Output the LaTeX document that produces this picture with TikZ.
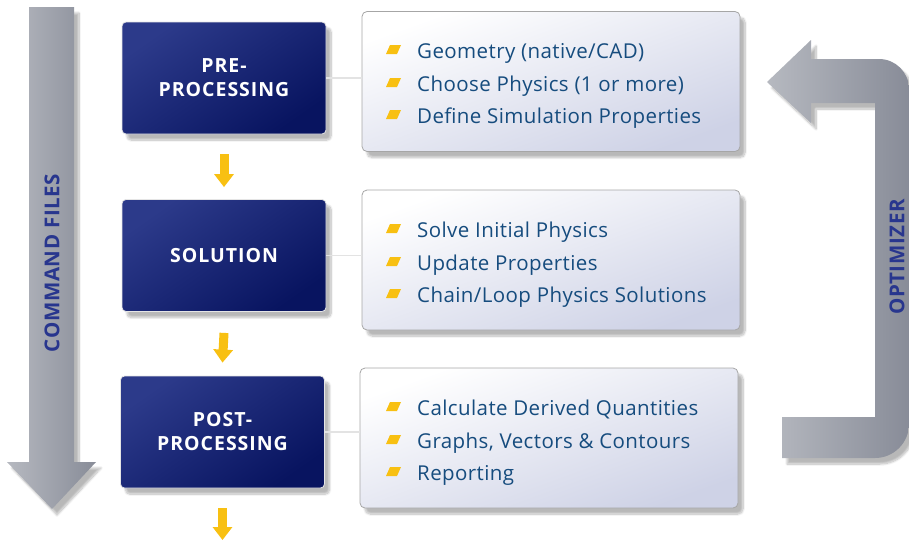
\documentclass[tikz,border=0pt]{standalone}
\usepackage{fontspec}
\setmainfont{Open Sans}
\usetikzlibrary{shadows,shadows.blur,arrows.meta}
\definecolor{navyL}{RGB}{44,58,138}
\definecolor{navyD}{RGB}{8,20,96}
\definecolor{txtblue}{RGB}{22,76,126}
\definecolor{lav}{RGB}{206,210,230}
\definecolor{greyL}{RGB}{182,185,192}
\definecolor{greyD}{RGB}{136,140,152}
\definecolor{lbl}{RGB}{40,54,142}
\definecolor{yel}{RGB}{248,192,18}
\tikzset{
  softshadow/.style={blur shadow={shadow xshift=5pt, shadow yshift=-6pt, shadow blur steps=10, shadow opacity=28}},
  stage/.style={draw=white!80!gray, line width=0.8pt, rounded corners=4pt,
    top color=navyL, bottom color=navyD, shading angle=35,
    minimum width=204pt, minimum height=112pt, inner sep=0pt,
    text=white, align=center, font=\bfseries\fontsize{19.5}{24}\selectfont\addfontfeature{LetterSpace=5}, softshadow},
  infobox/.style={draw=gray!70, line width=0.8pt, rounded corners=5pt,
    top color=white, bottom color=lav, shading angle=20,
    minimum width=378pt, minimum height=140pt, inner sep=0pt, softshadow},
  item/.style={anchor=base west, inner sep=0pt, text=txtblue, font=\fontsize{20.5}{24}\selectfont\addfontfeature{LetterSpace=2}},
  conn/.style={draw=gray!22, line width=1.4pt},
  yarrow/.style={draw=yel, line width=9pt, -{Triangle[width=19pt,length=13pt]}},
  bigarrow/.style={left color=greyL, right color=greyD, softshadow},
  arrowlabel/.style={rotate=90, text=lbl, font=\bfseries\fontsize{20.5}{24}\selectfont\addfontfeature{LetterSpace=3}, inner sep=0pt},
  bulletfill/.style={fill=yel}
}
\begin{document}
\begin{tikzpicture}[x=1pt,y=-1pt]
\useasboundingbox (0,0) rectangle (909,541);

% command files arrow
\path[bigarrow] (29,7) -- (74,7) -- (74,462) -- (96,462) -- (52,509) -- (7,462) -- (29,462) -- cycle;
\node[arrowlabel] (cmd) at (52,263) {COMMAND FILES};

% optimizer arrow
\path[bigarrow] (767,82) -- (811,40) -- (811,59) -- (879,59)
  arc[start angle=270, end angle=360, radius=30] -- (909,424)
  arc[start angle=0, end angle=90, radius=34] -- (782,458) -- (782,417)
  -- (875,417) -- (875,103) -- (811,103) -- (811,123) -- cycle;
\node[arrowlabel] (opt) at (897,257) {OPTIMIZER};

% stage boxes
\node[stage] (pre)  at (224,78)    {PRE-\\PROCESSING};
\node[stage] (sol)  at (224,255.5) {SOLUTION};
\node[stage] (post) at (222.5,432) {POST-\\PROCESSING};

% info boxes
\node[infobox] (l1) at (551,81.5) {};
\node[infobox] (l2) at (551,260) {};
\node[infobox] (l3) at (549,438) {};

% connectors
\draw[conn] (pre.east) -- (pre.east -| l1.west);
\draw[conn] (sol.east) -- (sol.east -| l2.west);
\draw[conn] (post.east) -- (post.east -| l3.west);

% yellow arrows
\coordinate (endarrow) at (222.5,540);
\draw[yarrow] ([yshift=-20pt]pre.south) -- ([yshift=12pt]sol.north);
\draw[yarrow] ([yshift=-21pt]sol.south) -- ([yshift=13pt]post.north);
\draw[yarrow] ([yshift=-20pt]post.south) -- (endarrow);

% bullets
\foreach \b in {58,91,123,237,270,302,415,448,480}{
  \fill[bulletfill] (390,\b-13) -- (401,\b-13) -- (397,\b-4) -- (386,\b-4) -- cycle;
}

% items
\node[item] (t11) at (417,58)  {Geometry (native/CAD)};
\node[item] (t12) at (417,91)  {Choose Physics (1 or more)};
\node[item] (t13) at (417,123) {Define Simulation Properties};
\node[item] (t21) at (417,237) {Solve Initial Physics};
\node[item] (t22) at (417,270) {Update Properties};
\node[item] (t23) at (417,302) {Chain/Loop Physics Solutions};
\node[item] (t31) at (417,415) {Calculate Derived Quantities};
\node[item] (t32) at (417,448) {Graphs, Vectors \& Contours};
\node[item] (t33) at (417,480) {Reporting};
\end{tikzpicture}
\end{document}
